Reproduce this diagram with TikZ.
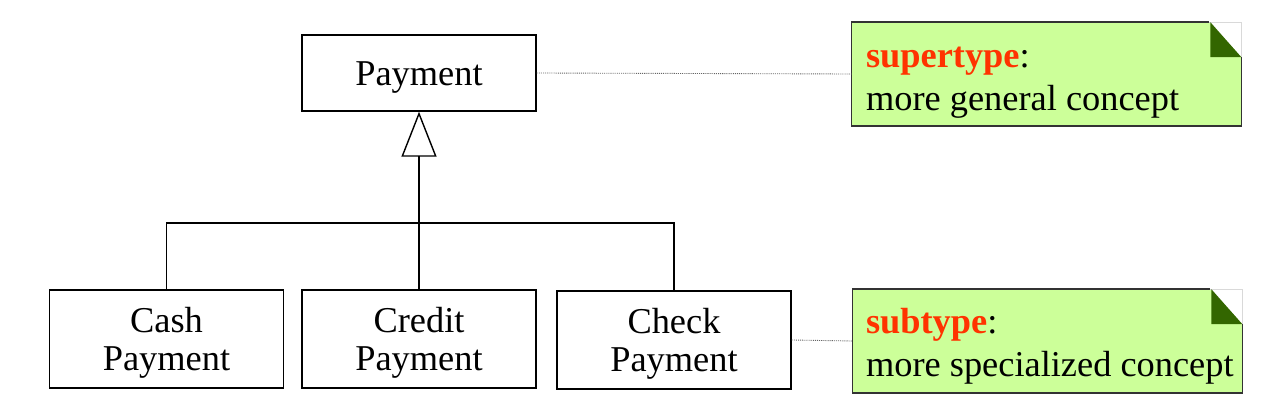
\documentclass[tikz,border=0pt]{standalone}
\usepackage{fontspec}
\setmainfont{Liberation Serif}
\usepackage{tikz}
\usetikzlibrary{arrows.meta,calc}
\definecolor{noteGreen}{HTML}{CCFF99}
\definecolor{noteCorner}{HTML}{336600}
\definecolor{keyRed}{HTML}{FF3300}
\newcommand{\tikzScale}{1.0}
\newcommand{\umlFont}{\fontsize{20.7}{21.6}\selectfont}
\newcommand{\noteFont}{\fontsize{20.7}{24}\selectfont}
\newcommand{\boxStrut}{\rule{0pt}{19pt}}
\newcommand{\keyWord}[1]{\textcolor{keyRed}{\textbf{#1}}:}

\begin{document}
\begin{tikzpicture}[scale=\tikzScale, x=0.02cm, y=-0.02cm,
   umlclass/.style={draw, line width=0.8pt, align=center, font=\umlFont,
      minimum width=4.68cm, inner sep=0pt},
   umlnote/.style={minimum width=7.78cm, minimum height=2.06cm, inner sep=0pt},
   notetext/.style={anchor=base west, align=left, font=\noteFont, inner sep=0pt},
   anchorline/.style={gray!80!black, line width=0.5pt, dash pattern=on 0.6pt off 0.6pt}]
         \useasboundingbox (0,0) rectangle (1261,409);

         \node[umlclass, minimum height=1.52cm] (payment) at (419,73) {\boxStrut Payment};
         \node[umlclass, minimum height=1.96cm] (cash) at (166.5,339) {\boxStrut Cash\\Payment};
         \node[umlclass, minimum height=1.96cm] (credit) at (419,339) {\boxStrut Credit\\Payment};
         \node[umlclass, minimum height=1.96cm] (check) at (674,340) {\boxStrut Check\\Payment};

         \coordinate (bus) at (419,223);
         \draw[line width=0.8pt] (cash.north) |- (bus) -| (check.north);
         \draw[line width=0.8pt] (credit.north) -- (bus);
         \draw[line width=0.8pt, -{Triangle[open, length=0.9cm, width=0.7cm]}] (bus) -- (payment.south);

         \node[umlnote] (superNote) at (1046.5,74) {};
         \node[umlnote] (subNote) at (1047.5,341) {};
         \foreach \n in {superNote, subNote}
         {
            \fill[noteGreen] (\n.south west) -- (\n.north west) -- ($(\n.north east)+(-32,0)$)
               -- ($(\n.north east)+(0,35)$) -- (\n.south east) -- cycle;
            \draw[gray!30, line width=0.6pt] ($(\n.north east)+(-32,0)$) -- (\n.north east) -- ($(\n.north east)+(0,35)$);
            \fill[noteCorner] ($(\n.north east)+(-31,0)$) -- ($(\n.north east)+(0,35)$) -- ($(\n.north east)+(-31,35)$) -- cycle;
            \draw[black!80, line width=0.8pt] ($(\n.north east)+(-32,0)$) -- (\n.north west)
               -- (\n.south west) -- (\n.south east) -- ($(\n.north east)+(0,35)$);
         }
         \node[notetext] (superText) at ($(superNote.north west)+(14,88)$) {\keyWord{supertype}\\more general concept};
         \node[notetext] (subText) at ($(subNote.north west)+(13,87)$) {\keyWord{subtype}\\more specialized concept};

         \draw[anchorline] (payment.east) -- (superNote.west);
         \draw[anchorline] (check.east) -- (subNote.west);
      \end{tikzpicture}
\end{document}
